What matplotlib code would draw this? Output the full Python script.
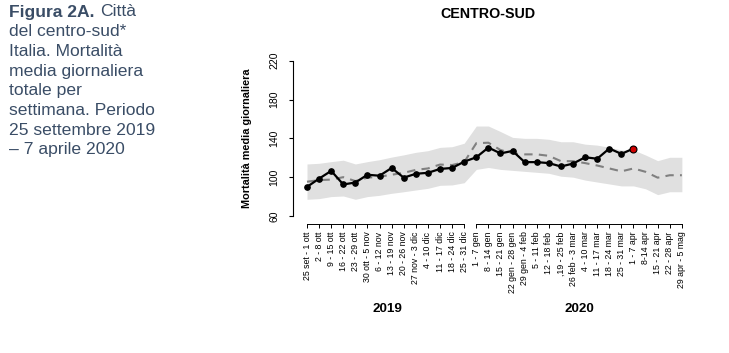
import matplotlib
matplotlib.use("Agg")
import matplotlib.pyplot as plt
from matplotlib.transforms import blended_transform_factory

plt.rcParams['font.family'] = ['Liberation Sans', 'DejaVu Sans']

labels_2019 = ["25 set - 1 ott", "2 - 8 ott", "9 - 15 ott", "16 - 22 ott", "23 - 29 ott",
               "30 ott - 5 nov", "6 - 12 nov", "13 - 19 nov", "20 - 26 nov", "27 nov - 3 dic",
               "4 - 10 dic", "11 - 17 dic", "18 - 24 dic", "25 - 31 dic"]
labels_2020 = ["1 - 7 gen", "8 - 14 gen", "15 - 21 gen", "22 gen - 28 gen", "29 gen - 4 feb",
               "5 - 11 feb", "12 - 18 feb", ",19 - 25 feb", "26 feb - 3 mar", "4 - 10 mar",
               "11 - 17 mar", "18 - 24 mar", "25 - 31 mar", "1 - 7 apr", "8-14 apr",
               "15 - 21 apr", "22 - 28 apr", "29 apr - 5 mag"]

observed = [90, 98.5, 106.5, 92.5, 94.5, 102.5, 101.5, 109.5, 99.5, 103.5, 104.5, 108.5,
            109.5, 116, 120.5, 130.5, 124.5, 127, 115.5, 115.5, 114.5, 111, 114, 120.5,
            119, 129.5, 124, 129.5]
expected = [95.3, 97, 97.5, 100, 96, 99.5, 100.5, 102.5, 104.5, 107.5, 109, 113, 112.5,
            115.5, 135, 135.5, 128, 124.5, 123.5, 123.5, 122, 116.5, 116.5, 114.5, 112,
            109, 106, 109, 105.5, 99.5, 102, 102]
upper = [113.6, 114.3, 116, 117.5, 113.6, 116, 118, 120.7, 123, 125.6, 127.3, 130.7, 131.4,
         135, 152.7, 152.7, 147, 141, 140, 140, 139, 136.5, 136.5, 134, 133, 130.8, 128,
         128, 122.8, 117, 120.5, 120.5]
lower = [77.2, 77.9, 80, 80.6, 77.2, 80, 81.3, 83.4, 85, 86.8, 88.5, 91.6, 92, 94.3, 108,
         110, 108, 107, 106, 105, 104, 101, 100, 97, 95, 93, 91, 91, 88, 82, 85, 85]
yticks = [60, 100, 140, 180, 220]

W, H = 729, 353
fig = plt.figure(figsize=(W / 100, H / 100), dpi=100)

def px(x, y):
    return x / W, 1 - y / H

# axes: x-pixel 293..700, y-pixel 60.7..216
ax = fig.add_axes([293 / W, (H - 216) / H, 407 / W, 155.3 / H])
xs_all = list(range(len(labels_2019) + len(labels_2020)))
xs_obs = xs_all[:len(observed)]

ax.fill_between(xs_all, lower, upper, color='#e0e0e0', lw=0, zorder=1)
ax.plot(xs_all, expected, color='#808080', lw=1.5, dashes=(4, 3), zorder=2)
ax.plot(xs_obs, observed, color='black', lw=1.6, marker='o', ms=3.8, zorder=3)
ax.plot(xs_obs[-1:], observed[-1:], ls='none', marker='o', ms=5, mfc='#d00000',
        mec='black', mew=0.8, zorder=4)

ax.set_xlim(-1.158, 32.5)
ax.set_ylim(60, 220)

for s in ['top', 'right']:
    ax.spines[s].set_visible(False)
ax.spines['left'].set_bounds(60, 220)
ax.spines['left'].set_linewidth(0.8)
ax.spines['bottom'].set_position(('outward', 5.8))
ax.spines['bottom'].set_visible(False)

ax.set_yticks(yticks)
ax.set_yticklabels([str(v) for v in yticks], rotation=90, va='center', fontsize=7.5)
ax.tick_params(axis='y', length=2.9, width=0.8, pad=7)

ax.set_xticks(xs_all)
ax.set_xticklabels(labels_2019 + labels_2020, rotation=90, va='top', ha='center', fontsize=6.3)
ax.tick_params(axis='x', length=2.9, width=0.7, pad=2.5)

trans = blended_transform_factory(ax.transData, ax.transAxes)
yline = -8 / 155.3
n19 = len(labels_2019)
ax.plot([0, n19 - 1], [yline, yline], color='black', lw=0.7, transform=trans, clip_on=False)
ax.plot([n19, len(xs_all) - 1], [yline, yline], color='black', lw=0.7, transform=trans, clip_on=False)

# year labels
fig.text(*px(387, 309), "2019", ha='center', va='center', fontsize=9.6, fontweight='bold')
fig.text(*px(579, 309), "2020", ha='center', va='center', fontsize=9.6, fontweight='bold')

# y label
fig.text(*px(247, 138.3), "Mortalità media giornaliera", rotation=90, ha='center',
         va='center', fontsize=7.8, fontweight='bold')

# title
fig.text(*px(488, 13.5), "CENTRO-SUD", ha='center', va='center', fontsize=10.3,
         fontweight='bold')

# left caption
cap_color = '#3a4d66'
fig.text(*px(9, 12), "Figura 2A.", ha='left', va='center', fontsize=12.6,
         fontweight='bold', color=cap_color)
fig.text(*px(100, 12), "Città", ha='left', va='center', fontsize=12.6, color=cap_color)
rest = ["del centro-sud*", "Italia. Mortalità", "media giornaliera", "totale per",
        "settimana. Periodo", "25 settembre 2019", "– 7 aprile 2020"]
for i, line in enumerate(rest):
    fig.text(*px(9, 31.7 + 19.7 * i), line, ha='left', va='center', fontsize=12.6,
             color=cap_color)

fig.savefig("out.png", dpi=100)
